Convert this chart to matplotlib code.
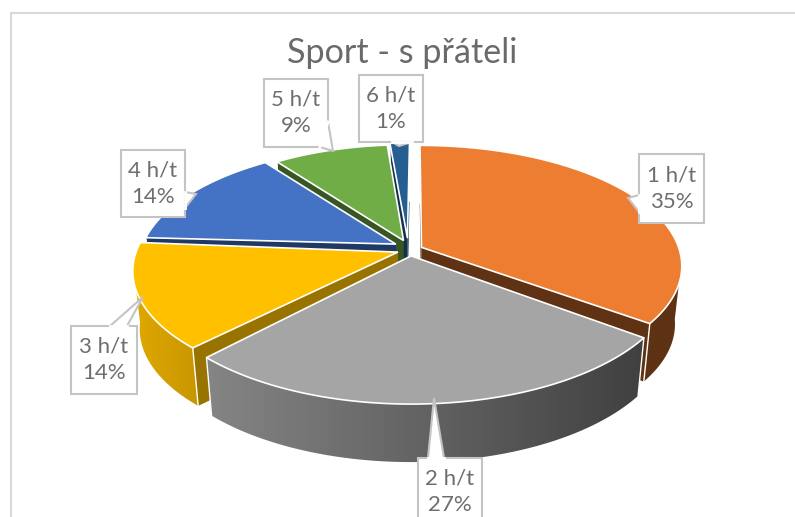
#%%
import numpy as np
import matplotlib
matplotlib.use('Agg')
import matplotlib.pyplot as plt
from matplotlib.colors import to_rgb
from matplotlib.patches import Polygon

#%%
categories = ['1 h/t', '2 h/t', '3 h/t', '4 h/t', '5 h/t', '6 h/t']
values = [35.1, 27.1, 14.1, 13.7, 8.6, 1.4]
top_colors = ['#ED7D31', '#A5A5A5', '#FFC000', '#4472C4', '#70AD47', '#255E91']
side_left = ['#5F3214', '#858585', '#E0A800', '#203864', '#375623', '#12304A']
side_right = ['#5F3214', '#404040', '#C79600', '#203864', '#375623', '#12304A']
face_colors = ['#5F3214', '#404040', '#997300', '#203864', '#375623', '#12304A']

# callouts: box left, top, right, bottom, then pointer polygon points
boxes = [(639, 154, 704, 223), (418, 458, 482, 530), (71, 326, 137, 394),
         (121, 150, 185, 217), (264, 79, 328, 147), (359, 75, 423, 142)]
pointers = [[(639, 195), (628, 198), (639, 212)],
            [(428, 458), (434, 398), (444, 458)],
            [(110, 326), (143, 297), (127, 326)],
            [(185, 192), (196, 194), (185, 208)],
            [(328, 122), (333, 151), (320, 147)],
            [(392, 142), (399, 146), (412, 142)]]

cx, cy = 410, 250
rx, ry = 258, 118
persp = 0.15
explode = 0.05
depth = 58
bottom_scale = 0.975
# per slice tweaks, the picture is not a clean projection
scale_x = [1, 1.012, 1.012, 1, 0.96, 1]
scale_y = [1, 1.05, 1, 1, 0.985, 1]
apex_shift = [(0, 0), (0, 0), (0, 0), (-3, -3), (-2, -4), (-2, -6)]

#%%
def project(X, Y):
    s = 1 / (1 + persp * Y)
    return cx + rx * X * s, cy - ry * Y * s


def lower(x, y):
    return cx + (x - cx) * bottom_scale, y + depth


#%%
fig = plt.figure(figsize=(7.95, 5.17), dpi=100)
ax = fig.add_axes([0, 0, 1, 1])

# chart frame
ax.plot([11, 11, 795], [517, 13, 13], color='#D9D9D9', lw=1.5, solid_joinstyle='miter')

shares = np.array(values) / sum(values) * 360
ends = np.cumsum(shares)
starts = ends - shares
mids = (starts + ends) / 2
# back slices first
order = np.argsort(-np.cos(np.radians(mids)))

for i in order:
    off = (explode * np.sin(np.radians(mids[i])), explode * np.cos(np.radians(mids[i])))
    base = project(*off)
    apex = (base[0] + apex_shift[i][0], base[1] + apex_shift[i][1])

    th = np.radians(np.linspace(starts[i], ends[i], 120))
    tx, ty = project(off[0] + np.sin(th), off[1] + np.cos(th))
    tx = base[0] + (tx - base[0]) * scale_x[i]
    ty = base[1] + (ty - base[1]) * scale_y[i]
    bx, by = lower(tx, ty)

    # cut faces
    for k in [0, -1]:
        ax.add_patch(Polygon([apex, (tx[k], ty[k]), (bx[k], by[k]), lower(*apex)],
                             fc=face_colors[i], ec='none', zorder=2))

    # outer side with a left to right gradient, only the part facing us
    front = np.cos(th) < -0.1
    if front.sum() > 1:
        fx, fy, gx, gy = tx[front], ty[front], bx[front], by[front]
        c0, c1 = np.array(to_rgb(side_left[i])), np.array(to_rgb(side_right[i]))
        grad = np.linspace(0, 1, 256)[None, :, None] * (c1 - c0) + c0
        side = Polygon(np.r_[np.c_[fx, fy], np.c_[gx, gy][::-1]], fc='none', ec='none')
        ax.add_patch(side)
        im = ax.imshow(grad, extent=[min(fx.min(), gx.min()), max(fx.max(), gx.max()), 517, 0],
                       aspect='auto', zorder=2, interpolation='bilinear')
        im.set_clip_path(side)
    for k in [0, -1]:
        ax.plot([tx[k], bx[k]], [ty[k], by[k]], color='white', lw=1, zorder=2)

    # top
    ax.add_patch(Polygon(np.r_[[apex], np.c_[tx, ty]], closed=True, fc=top_colors[i],
                         ec='white', lw=1.2, zorder=2))

ax.set_xlim(0, 795)
ax.set_ylim(517, 0)
ax.axis('off')

#%%
for i, name in enumerate(categories):
    l, t, r, b = boxes[i]
    ax.add_patch(Polygon([(l, t), (r, t), (r, b), (l, b)], fc='white', ec='#C4C4C4', lw=1.5, zorder=4))
    ax.add_patch(Polygon(pointers[i], fc='white', ec='#C4C4C4', lw=1.5, zorder=4, closed=False))
    # hide the box edge under the pointer
    ax.plot([pointers[i][0][0], pointers[i][2][0]], [pointers[i][0][1], pointers[i][2][1]],
            color='white', lw=2, zorder=5)
    ax.text((l + r) / 2, min((t + b) / 2, 492), f'{name}\n{values[i]:.0f}%', ha='center', va='center',
            fontsize=16, family='Lato', color='#6E6E6E', linespacing=1.4, zorder=6)

ax.text(402, 53, 'Sport - s přáteli', ha='center', va='center', fontsize=24.6, family='Lato', color='#6A6A6A')

fig.savefig('out.png', dpi=100)
